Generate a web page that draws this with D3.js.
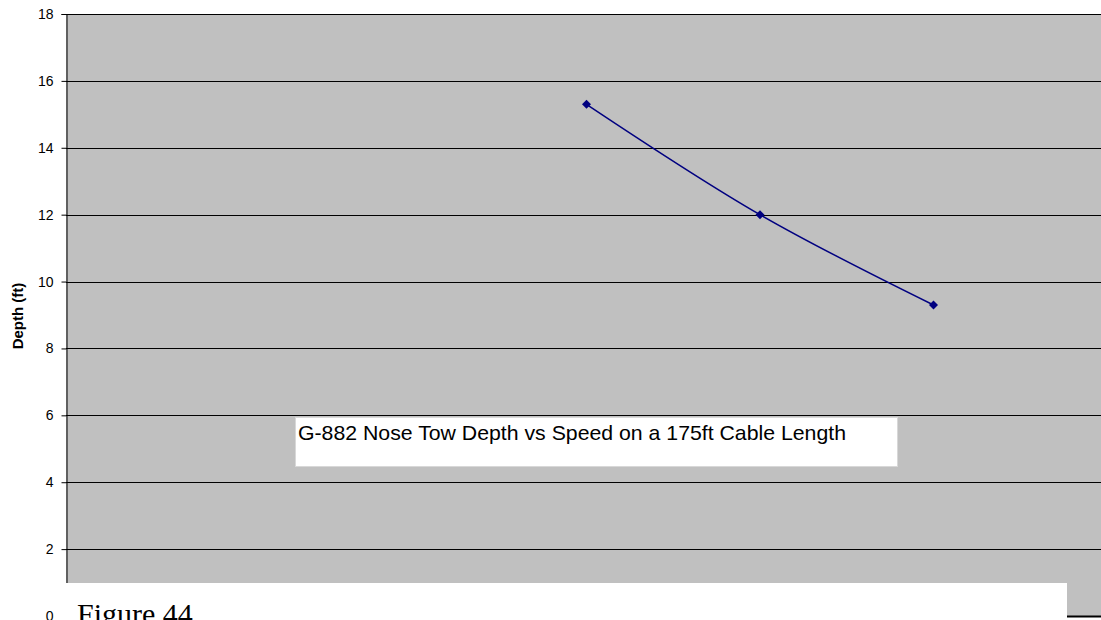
<!DOCTYPE html>
<html>
<head>
<meta charset="utf-8">
<script src="https://cdn.jsdelivr.net/npm/d3@7"></script>
<style>
  html, body { margin: 0; padding: 0; background: #fff; }
  svg { display: block; }
</style>
</head>
<body>
<svg id="chart" width="1101" height="620"></svg>
<script>
// Towing speed (knots) and measured sensor depth (ft)
const speeds = [3, 4, 5];
const depths = [15.3, 12.0, 9.3];
const yTicks = [0, 2, 4, 6, 8, 10, 12, 14, 16, 18];
const chartTitle = "G-882 Nose Tow Depth vs Speed on a 175ft Cable Length";
const yLabel = "Depth (ft)";
const caption = "Figure 44";

const svg = d3.select("#chart");

const plot = { left: 66, right: 1107, top: 14, bottom: 616 };

const x = d3.scaleLinear().domain([0, 6]).range([plot.left, plot.right]);
const y = d3.scaleLinear().domain([0, 18]).range([plot.bottom, plot.top]);

// plot area background
svg.append("rect")
  .attr("x", plot.left).attr("y", plot.top)
  .attr("width", plot.right - plot.left).attr("height", plot.bottom - plot.top)
  .attr("fill", "#c0c0c0");

// horizontal gridlines
svg.append("g").selectAll("line")
  .data(yTicks.filter(d => d > 0))
  .join("line")
  .attr("x1", plot.left).attr("x2", plot.right)
  .attr("y1", d => Math.round(y(d)) + 0.5).attr("y2", d => Math.round(y(d)) + 0.5)
  .attr("stroke", "#000").attr("stroke-width", 1);

// y axis
const yAxis = d3.axisLeft(y).tickValues(yTicks).tickSize(5).tickPadding(8);
const gy = svg.append("g")
  .attr("transform", `translate(${plot.left + 0.5},0)`)
  .call(yAxis);
gy.select(".domain").attr("stroke", "#000");
gy.selectAll(".tick line").attr("stroke", "#000");
gy.selectAll(".tick text")
  .attr("font-family", "Arial, 'Liberation Sans', sans-serif")
  .attr("font-size", 14).attr("fill", "#000");

// x axis baseline
svg.append("line")
  .attr("x1", plot.left).attr("x2", plot.right)
  .attr("y1", plot.bottom + 0.5).attr("y2", plot.bottom + 0.5)
  .attr("stroke", "#000").attr("stroke-width", 2);

// y axis title
svg.append("text")
  .attr("transform", `translate(23,${316}) rotate(-90)`)
  .attr("text-anchor", "middle")
  .attr("font-family", "Arial, 'Liberation Sans', sans-serif")
  .attr("font-weight", "bold")
  .attr("font-size", 15)
  .text(yLabel);

// depth series
const pts = speeds.map((s, i) => [s, depths[i]]);
svg.append("path")
  .datum(pts)
  .attr("fill", "none")
  .attr("stroke", "#000080")
  .attr("stroke-width", 1.5)
  .attr("d", d3.line().x(d => x(d[0])).y(d => y(d[1])).curve(d3.curveCatmullRom.alpha(0.5)));

svg.append("g").selectAll("path")
  .data(pts)
  .join("path")
  .attr("transform", d => `translate(${x(d[0])},${y(d[1])})`)
  .attr("d", "M0,-4.5L4.5,0L0,4.5L-4.5,0Z")
  .attr("fill", "#000080");

// chart title box
svg.append("rect")
  .attr("x", 295.5).attr("y", 417.5).attr("width", 602).attr("height", 49)
  .attr("fill", "#fff").attr("stroke", "#d8d8d8").attr("stroke-width", 1);
svg.append("text")
  .attr("x", 298).attr("y", 440)
  .attr("font-family", "Arial, 'Liberation Sans', sans-serif")
  .attr("font-size", 21)
  .attr("textLength", 548)
  .attr("lengthAdjust", "spacingAndGlyphs")
  .text(chartTitle);

// figure caption box
svg.append("rect")
  .attr("x", 57).attr("y", 583).attr("width", 1010).attr("height", 40)
  .attr("fill", "#fff");
svg.append("text")
  .attr("x", 77).attr("y", 624)
  .attr("font-family", "'Times New Roman', 'Liberation Serif', serif")
  .attr("font-size", 30)
  .text(caption);
</script>
</body>
</html>
